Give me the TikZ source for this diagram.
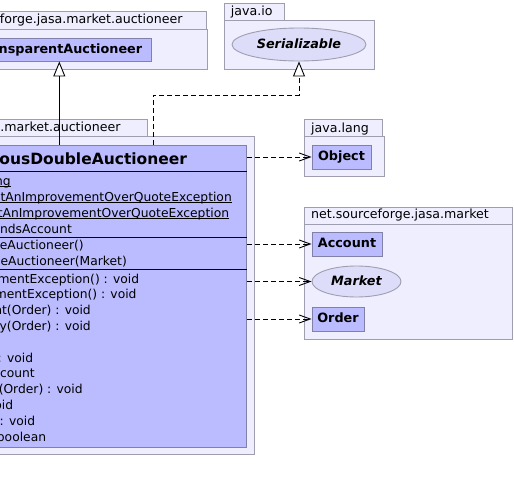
\documentclass[tikz,border=0pt]{standalone}
\usepackage{fontspec}
\setmainfont{DejaVu Sans}
\usetikzlibrary{arrows.meta,shapes.geometric}
\definecolor{pkgfill}{RGB}{238,238,255}
\definecolor{pkgline}{RGB}{158,158,176}
\definecolor{clsfill}{RGB}{187,187,255}
\definecolor{clsline}{RGB}{128,128,168}
\definecolor{ifill}{RGB}{221,221,250}
\newcommand\regfont{\fontsize{12.3}{15}\selectfont}
\newcommand\labfont{\fontsize{12.6}{15}\selectfont}
\newcommand\boldfont{\fontsize{12.8}{15}\selectfont\bfseries}
\newcommand\titlefont{\fontsize{15.5}{18}\selectfont\bfseries}
\newcommand\myul[1]{\setbox0\hbox{#1}\rlap{\rule[-1.6pt]{\wd0}{0.8pt}}\box0}
\tikzset{
  pkgbox/.style={draw=pkgline, fill=pkgfill, line width=0.9pt, inner sep=0pt, anchor=north west, rectangle},
  pkglabel/.style={font=\labfont, inner sep=0pt},
  clsbox/.style={draw=clsline, fill=clsfill, line width=0.9pt, inner sep=0pt, rectangle, font=\boldfont, text height=9.6pt, text depth=2pt},
  ifbox/.style={draw=pkgline, fill=ifill, line width=0.9pt, inner sep=0pt, ellipse, font=\boldfont\itshape, text height=9.6pt, text depth=2pt},
  member/.style={font=\regfont, inner sep=0pt, anchor=base east},
  sepline/.style={draw=black, line width=0.9pt},
  gen/.style={draw=black, line width=0.9pt, -{Triangle[length=15pt,width=12pt,fill=white]}},
  real/.style={gen, dash pattern=on 5pt off 3pt},
  dep/.style={draw=black, line width=0.9pt, dash pattern=on 5pt off 3pt, -{Straight Barb[length=11pt,width=8pt]}},
}
\begin{document}
\begin{tikzpicture}[x=1pt,y=-1pt]
\useasboundingbox (0,0) rectangle (514,492);
\clip (0,0) rectangle (514,492);
\fill[white] (0,0) rectangle (514,492);
% ---------- packages ----------
\node[pkgbox, minimum width=226pt, minimum height=18.3pt] (pAtab) at (-20,11) {};
\node[pkgbox, minimum width=227.3pt, minimum height=40pt] (pA) at (-20,29.3) {};
\node[pkglabel, anchor=base east] (pAlab) at (182.7,24) {net.sourceforge.jasa.market.auctioneer};

\node[pkgbox, minimum width=60pt, minimum height=17.5pt] (pIOtab) at (224,3) {};
\node[pkgbox, minimum width=150pt, minimum height=48.5pt] (pIO) at (224,20.5) {};
\node[pkglabel, anchor=base west] (pIOlab) at (230.7,15.3) {java.io};

\node[pkgbox, minimum width=167pt, minimum height=16.7pt] (pBtab) at (-20,119.3) {};
\node[pkgbox, minimum width=274pt, minimum height=318pt] (pB) at (-20,136) {};
\node[pkglabel, anchor=base east] (pBlab) at (120.7,131.7) {net.sourceforge.jasa.market.auctioneer};

\node[pkgbox, minimum width=78pt, minimum height=16.7pt] (pLtab) at (304,119.3) {};
\node[pkgbox, minimum width=80pt, minimum height=40pt] (pL) at (304,136) {};
\node[pkglabel, anchor=base west] (pLlab) at (311,132) {java.lang};

\node[pkgbox, minimum width=208pt, minimum height=17pt] (pMtab) at (304,207.3) {};
\node[pkgbox, minimum width=208pt, minimum height=115pt] (pM) at (304,224.3) {};
\node[pkglabel, anchor=base west] (pMlab) at (311,218.5) {net.sourceforge.jasa.market};

% ---------- classifiers ----------
\node[ifbox, minimum width=134pt, minimum height=33pt] (ser) at (299,44.5) {Serializable};
\node[clsbox, minimum width=184pt, minimum height=23pt] (ta) at (59.3,49.5) {TransparentAuctioneer};
\node[clsbox, minimum width=59pt, minimum height=24pt] (obj) at (341.5,157) {Object};
\node[clsbox, minimum width=70pt, minimum height=24pt] (acc) at (347,244) {Account};
\node[ifbox, minimum width=89pt, minimum height=31pt] (mkt) at (356.5,281.5) {Market};
\node[clsbox, minimum width=52pt, minimum height=24pt] (ord) at (338,319) {Order};

% big class
\node[clsbox, minimum width=375pt, minimum height=302pt, anchor=north] (cda) at (59.3,145) {};
\node[font=\titlefont, inner sep=0pt, anchor=base] (cdaname) at (59.3,164.5) {ContinuousDoubleAuctioneer};
\draw[sepline] (-130,171) -- (246.8,171);
\draw[sepline] (-130,237) -- (246.8,237);
\draw[sepline] (-130,269) -- (246.8,269);

\node[member] (a1) at (11,185.6) {\myul{ng}};
\node[member] (a2) at (232,201.4) {\myul{otAnImprovementOverQuoteException}};
\node[member] (a3) at (229.3,217.2) {\myul{tAnImprovementOverQuoteException}};
\node[member] (a4) at (72,233) {ndsAccount};

\node[member] (c1) at (84,249.5) {eAuctioneer()};
\node[member] (c2) at (127,265.3) {eAuctioneer(Market)};

\node[member] (m1) at (139.3,283) {mentException() : void};
\node[member] (m2) at (136.7,298.8) {mentException() : void};
\node[member] (m3) at (91,314.6) {nt(Order) : void};
\node[member] (m4) at (91,330.4) {cy(Order) : void};
\node[member] (m6) at (33.3,362) {: void};
\node[member] (m7) at (35,377.8) {count};
\node[member] (m8) at (82.8,393.6) {(Order) : void};
\node[member] (m9) at (13.3,409.4) {oid};
\node[member] (m10) at (35.3,425.2) {: void};
\node[member] (m11) at (46.3,441) {boolean};

% ---------- connectors ----------
\draw[gen] (cda.north) -- (ta.south);
\coordinate (bend) at (153,95);
\draw[real] (cda.north -| bend) -- (bend) -| (ser.south);
\draw[dep] (cda.east |- obj.west) -- (obj.west);
\draw[dep] (cda.east |- acc.west) -- (acc.west);
\draw[dep] (cda.east |- mkt.west) -- (mkt.west);
\draw[dep] (cda.east |- ord.west) -- (ord.west);
\end{tikzpicture}
\end{document}
